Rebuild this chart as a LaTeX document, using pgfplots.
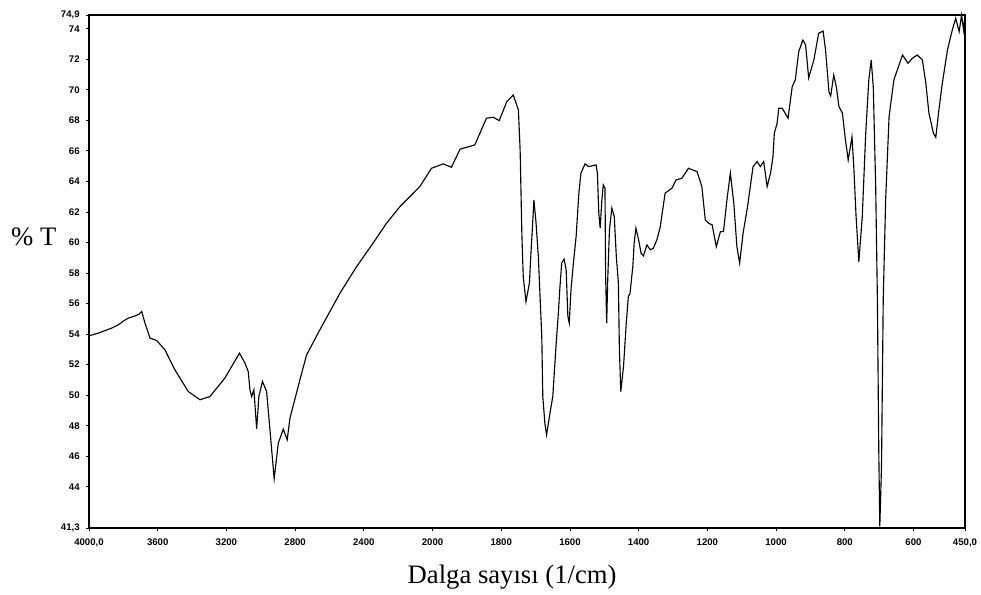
\documentclass[border=0pt]{standalone}
\usepackage{fontspec}
\setmainfont{Liberation Serif}
\newfontfamily\tickfont{Liberation Sans}
\usepackage{pgfplots}
\usepackage{pgfplotstable}
\pgfplotsset{compat=1.18}

% IR spectrum: wavenumber (1/cm) and transmittance (%T)
\pgfplotstableread{
wn T
4000 53.89
3994 53.91
3950 54.05
3907 54.23
3870 54.38
3829 54.61
3800 54.85
3771 55.05
3730 55.20
3710 55.30
3693 55.48
3674 54.72
3645 53.74
3606 53.58
3558 52.97
3500 51.66
3422 50.24
3354 49.70
3296 49.91
3209 51.12
3124 52.75
3092 52.10
3073 51.55
3063 50.35
3053 49.91
3040 50.35
3024 47.80
3011 49.91
2990 50.90
2966 50.24
2947 47.80
2922 44.53
2898 46.86
2869 47.77
2846 47.08
2830 48.50
2772 51.01
2733 52.64
2656 54.28
2539 56.68
2442 58.42
2346 59.96
2268 61.26
2190 62.35
2074 63.66
2006 64.86
1969 65.15
1945 64.93
1920 66.11
1877 66.39
1843 68.14
1823 68.20
1806 67.98
1784 69.22
1765 69.66
1750 68.68
1745 66.06
1740 60.61
1736 57.77
1728 56.13
1718 57.34
1713 59.52
1708 61.48
1705 62.79
1699 61.37
1692 59.08
1687 56.46
1682 53.84
1679 49.91
1673 48.17
1668 47.41
1658 48.83
1650 49.91
1645 51.66
1640 53.41
1634 55.26
1629 57.11
1624 58.65
1617 58.91
1611 58.21
1606 55.15
1602 54.72
1597 56.90
1590 58.65
1582 60.39
1574 63.23
1568 64.54
1556 65.15
1546 64.97
1524 65.08
1520 64.54
1516 61.92
1512 60.94
1507 62.79
1503 63.77
1498 63.56
1496 57.66
1493 54.72
1490 57.55
1485 60.83
1478 62.25
1471 61.70
1465 59.08
1459 57.34
1456 52.97
1452 50.24
1444 51.88
1436 54.72
1430 56.46
1425 56.68
1417 58.42
1413 59.96
1408 60.94
1400 60.17
1393 59.30
1386 59.12
1376 59.84
1366 59.52
1357 59.63
1347 60.17
1337 61.04
1323 63.23
1303 63.56
1291 64.10
1274 64.21
1255 64.86
1230 64.64
1216 63.66
1206 61.48
1196 61.26
1186 61.15
1174 59.73
1162 60.71
1153 60.71
1143 62.79
1133 64.54
1123 62.57
1114 59.73
1106 58.65
1096 60.61
1083 62.35
1067 64.97
1055 65.30
1046 64.97
1036 65.30
1026 63.66
1016 64.54
1009 65.62
1005 67.16
997 67.81
992 68.79
982 68.79
965 68.14
953 70.21
944 70.65
934 72.50
922 73.26
914 72.94
905 70.78
890 71.95
876 73.70
863 73.85
856 72.61
846 69.86
841 69.60
832 70.97
824 70.12
817 68.90
807 68.49
798 66.72
790 65.41
779 66.91
774 65.08
767 61.70
759 58.73
749 61.70
739 67.16
730 70.65
723 71.95
717 70.21
710 63.66
705 56.24
701 46.42
698 41.40
693 45.33
688 56.24
681 62.79
671 68.24
657 70.65
642 71.63
632 72.28
616 71.74
603 72.07
589 72.28
574 71.95
564 70.43
555 68.47
542 67.16
535 66.89
526 68.68
516 70.43
501 72.61
487 73.92
477 74.68
467 73.81
460 74.90
454 73.92
450 74.90
}\spectrum

\begin{document}
\begin{tikzpicture}
\begin{axis}[
  at={(0,0)}, anchor=south west,
  scale only axis,
  width=657pt, height=384.75pt,
  % wavenumber scale: 400 per division above 2000, 200 per division below
  xmin=0, xmax=12.75,
  ymin=41.3, ymax=74.9,
  xtick={0,1,2,3,4,5,6,7,8,9,10,11,12,12.75},
  xticklabels={4000{,}0,3600,3200,2800,2400,2000,1800,1600,1400,1200,1000,800,600,450{,}0},
  ytick={41.3,44,46,48,50,52,54,56,58,60,62,64,66,68,70,72,74,74.9},
  yticklabels={41{,}3,44,46,48,50,52,54,56,58,60,62,64,66,68,70,72,74,74{,}9},
  xtick pos=bottom, ytick pos=left,
  tick align=outside,
  major tick length=2.5pt,
  tick style={black, line width=0.6pt},
  axis line style={line width=0.8pt},
  ticklabel style={font=\tickfont\bfseries\fontsize{7.2}{8}\selectfont},
  xticklabel style={yshift=-2pt},
  yticklabel style={xshift=-1pt},
  clip=false,
  xlabel={Dalga sayısı (1/cm)},
  xlabel style={font=\fontsize{20}{24}\selectfont, at={(axis description cs:0.483,-0.0955)}, anchor=center},
  ylabel={\% T},
  ylabel style={font=\fontsize{20}{24}\selectfont, rotate=-90, at={(axis description cs:-0.063,0.567)}, anchor=center},
]
\addplot[black, line width=0.85pt]
  table[x expr={(4000-\thisrow{wn})/400+max(0,2000-\thisrow{wn})/400}, y=T] {\spectrum};
\end{axis}
\pgfresetboundingbox
\path[use as bounding box] (-66.75pt,-49.5pt) rectangle (669pt,396pt);
\end{tikzpicture}
\end{document}
